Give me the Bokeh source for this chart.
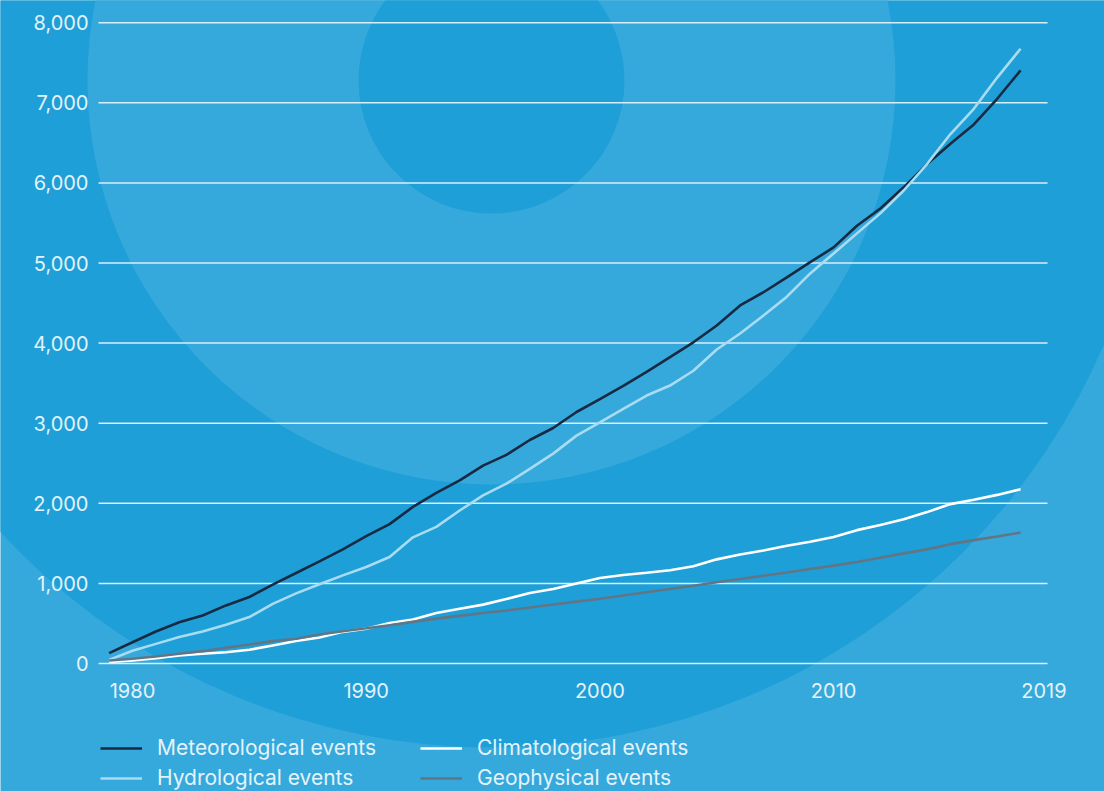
import numpy as np
from bokeh.plotting import figure
from bokeh.models import (Range1d, LinearAxis, FixedTicker, NumeralTickFormatter,
                          Legend, LegendItem)
from bokeh.embed import file_html
from bokeh.resources import INLINE

# ---------------- data (cumulative number of events) ----------------
years = list(range(1979, 2019))
meteorological = [130, 265, 400, 515, 600, 725, 830, 985, 1130, 1275,
                  1425, 1590, 1740, 1955, 2130, 2285, 2470, 2605, 2790, 2940,
                  3140, 3300, 3465, 3640, 3825, 4010, 4220, 4470, 4635, 4820,
                  5010, 5195, 5465, 5680, 5945, 6235, 6490, 6730, 7050, 7405]
hydrological = [45, 160, 245, 330, 400, 485, 580, 745, 875, 990,
                1100, 1205, 1330, 1575, 1705, 1910, 2100, 2245, 2430, 2620,
                2845, 3010, 3180, 3345, 3470, 3655, 3920, 4120, 4345, 4580,
                4870, 5120, 5370, 5620, 5905, 6235, 6610, 6925, 7315, 7675]
climatological = [20, 37, 67, 100, 121, 141, 171, 225, 282, 325,
                  395, 435, 505, 549, 630, 683, 735, 805, 880, 930,
                  1000, 1068, 1105, 1132, 1165, 1215, 1300, 1360, 1411, 1470,
                  1520, 1580, 1665, 1730, 1800, 1890, 1990, 2045, 2105, 2175]
geophysical = [37, 60, 87, 121, 154, 196, 237, 279, 308, 362,
               403, 440, 478, 520, 560, 595, 630, 662, 700, 737,
               772, 808, 850, 890, 930, 970, 1015, 1055, 1095, 1135,
               1180, 1222, 1268, 1320, 1375, 1425, 1490, 1540, 1585, 1635]
series_names = ["Meteorological events", "Hydrological events",
                "Climatological events", "Geophysical events"]
y_ticks = [0, 1000, 2000, 3000, 4000, 5000, 6000, 7000, 8000]
x_ticks = [1980, 1990, 2000, 2010, 2019]

# ---------------- layout / style ----------------
W, H = 1104, 791
PX_PER_YEAR = 23.37
PX_PER_UNIT = 0.0801
X_REF_PX, X_REF = 132, 1980
Y_ZERO_PX = 663
GRID_LEFT_PX, GRID_RIGHT_PX = 98, 1047

def sx(px):
    return X_REF + (px - X_REF_PX) / PX_PER_YEAR

def sy(py):
    return (Y_ZERO_PX - py) / PX_PER_UNIT

DARK_BG = "#1e9fd8"
LIGHT_BG = "#36a9dc"
GRID_COL = "#d8eef8"
TEXT_COL = "#e4f3fa"
FONT = "Inter"
COLORS = ["#172a42", "#a9dcf1", "#ffffff", "#627585"]

p = figure(width=W, height=H, output_backend="svg", toolbar_location=None,
           x_range=Range1d(sx(0), sx(W)), y_range=Range1d(sy(H), sy(0)),
           x_axis_location=None, y_axis_location=None, min_border=0)
p.xgrid.visible = False
p.ygrid.visible = False
p.background_fill_color = LIGHT_BG
p.border_fill_color = LIGHT_BG
p.outline_line_color = None

# decorative concentric circles
cx, cy = sx(491), sy(80)
p.scatter(x=[cx, cx, cx], y=[cy, cy, cy], size=[1334, 808, 266],
          fill_color=[DARK_BG, LIGHT_BG, DARK_BG], line_color=None)

# gridlines
n = len(y_ticks)
p.segment(x0=[sx(GRID_LEFT_PX)] * n, y0=y_ticks, x1=[sx(GRID_RIGHT_PX)] * n, y1=y_ticks,
          line_color=GRID_COL, line_width=1.5)

# series
renderers = []
for vals, col in zip([meteorological, hydrological, climatological, geophysical], COLORS):
    r = p.line(years, vals, line_color=col, line_width=2.6)
    renderers.append(r)

# axes (fixed inside the frame)
yaxis = LinearAxis(fixed_location=sx(GRID_LEFT_PX), ticker=FixedTicker(ticks=y_ticks),
                   formatter=NumeralTickFormatter(format="0,0"))
xaxis = LinearAxis(fixed_location=0, ticker=FixedTicker(ticks=x_ticks),
                   formatter=NumeralTickFormatter(format="0"))
for ax, standoff in ((yaxis, 10), (xaxis, 19)):
    ax.axis_line_color = None
    ax.major_tick_line_color = None
    ax.minor_tick_line_color = None
    ax.major_tick_in = 0
    ax.major_tick_out = 0
    ax.major_label_standoff = standoff
    ax.major_label_text_font = FONT
    ax.major_label_text_font_size = "20px"
    ax.major_label_text_color = TEXT_COL
p.add_layout(yaxis, "left")
p.add_layout(xaxis, "below")

# legends (two columns)
def make_legend(idx, loc):
    items = [LegendItem(label=series_names[i], renderers=[renderers[i]]) for i in idx]
    leg = Legend(items=items, location=loc, orientation="vertical")
    leg.glyph_width = 42
    leg.glyph_height = 24
    leg.label_height = 24
    leg.label_standoff = 15
    leg.spacing = 5
    leg.padding = 0
    leg.margin = 0
    leg.border_line_color = None
    leg.background_fill_alpha = 0
    leg.label_text_font = FONT
    leg.label_text_font_size = "21px"
    leg.label_text_color = TEXT_COL
    return leg

p.add_layout(make_legend([0, 1], (100, 1)))
p.add_layout(make_legend([2, 3], (420, 1)))

open("out.html", "w").write(file_html(p, INLINE))
